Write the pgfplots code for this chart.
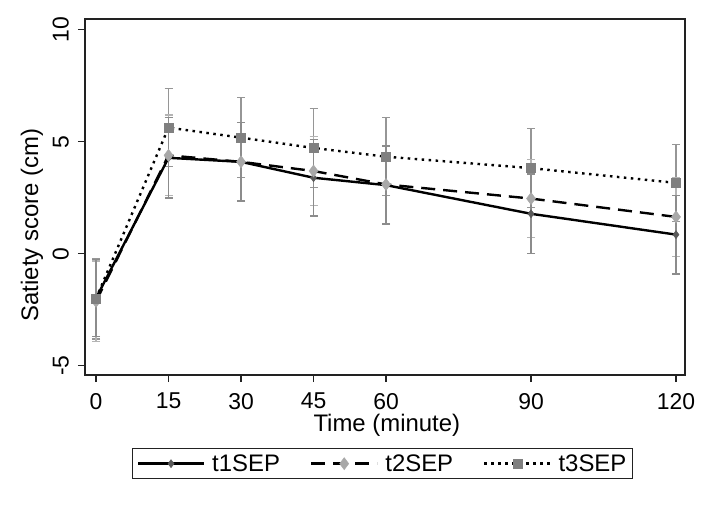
\documentclass[border=0pt]{standalone}
\usepackage{pgfplots}
\pgfplotsset{compat=1.18}
\usepackage{fontspec}
\setmainfont{Liberation Sans}
\definecolor{m1}{HTML}{5A5A5A}
\definecolor{m2}{HTML}{A8A8A8}
\definecolor{m3}{HTML}{808080}
\definecolor{b1}{HTML}{8C8C8C}
\definecolor{b2}{HTML}{B4B4B4}
\definecolor{b3}{HTML}{969696}
\definecolor{frame}{HTML}{222222}
\begin{document}
\begin{tikzpicture}
\path[use as bounding box] (0,0) rectangle (705bp,512bp);
\begin{axis}[
  at={(85bp,137bp)}, anchor=south west,
  scale only axis, width=600bp, height=356bp,
  xmin=-2.28, xmax=121.86, ymin=-5.42, ymax=10.48,
  xtick={0,15,30,45,60,90,120},
  ytick={-5,0,5,10},
  axis line style={frame, line width=1.3bp},
  tick style={frame, line width=1.2bp},
  tick align=outside, major tick length=7bp,
  xtick pos=bottom, ytick pos=left,
  /pgf/number format/assume math mode=true,
  ticklabel style={font=\fontsize{23}{26}\selectfont, inner sep=0pt},
  xticklabel style={anchor=north},
  xticklabel shift=11bp,
  yticklabel style={rotate=90, anchor=south},
  yticklabel shift=9bp,
  xlabel={Time (minute)},
  ylabel={Satiety score (cm)},
  label style={font=\fontsize{24}{27}\selectfont, inner sep=0pt},
  xlabel style={at={(axis description cs:0.503,-0.16)}, anchor=base},
  ylabel style={at={(axis description cs:-0.0783,0.421)}, anchor=base},
  legend columns=3,
  legend style={at={(axis description cs:0.496,-0.205)}, anchor=north,
    draw=frame, line width=1.2bp, font=\fontsize{24}{27}\selectfont,
    inner xsep=4bp, inner ysep=4bp,
    /tikz/every even column/.append style={column sep=28bp},
    /tikz/every odd column/.append style={column sep=5bp},
  },
  legend image code/.code={%
    \draw[mark repeat=2, mark phase=2, #1] plot coordinates {(0bp,0bp) (33bp,0bp) (66bp,0bp)};},
  legend cell align=left,
]
% error bars (drawn beneath the lines)
\addplot[draw=none, forget plot, error bars/.cd, y dir=both, y explicit,
  error bar style={b3, line width=1.5bp, solid},
  error mark options={rotate=90, mark size=4bp, b3, line width=1.5bp, solid}]
  table[x=x, y=y, y error=e] {
x y e
0 -2.01 1.80
15 5.63 1.74
30 5.18 1.79
45 4.72 1.76
60 4.33 1.74
90 3.82 1.76
120 3.16 1.72
};
\addplot[draw=none, forget plot, error bars/.cd, y dir=both, y explicit,
  error bar style={b2, line width=1.5bp, solid},
  error mark options={rotate=90, mark size=4bp, b2, line width=1.5bp, solid}]
  table[x=x, y=y, y error=e] {
x y e
0 -2.13 1.80
15 4.39 1.80
30 4.10 1.75
45 3.69 1.55
60 3.09 1.74
90 2.46 1.75
120 1.64 1.76
};
\addplot[draw=none, forget plot, error bars/.cd, y dir=both, y explicit,
  error bar style={b1, line width=1.5bp, solid},
  error mark options={rotate=90, mark size=4bp, b1, line width=1.5bp, solid}]
  table[x=x, y=y, y error=e] {
x y e
0 -1.99 1.72
15 4.28 1.80
30 4.10 1.75
45 3.39 1.70
60 3.06 1.74
90 1.78 1.78
120 0.85 1.75
};
% lines
\addplot[black, line width=2.4bp, mark=diamond*, mark size=4bp,
  mark options={solid, fill=m1, draw=m1, line width=0.5bp}]
  table {
0 -1.99
15 4.28
30 4.10
45 3.39
60 3.06
90 1.78
120 0.85
};
\addlegendentry{t1SEP}
\addplot[black, line width=2.4bp, dash pattern=on 14bp off 8bp, mark=diamond*, mark size=6bp,
  mark options={solid, fill=m2, draw=m2, line width=0.5bp}]
  table {
0 -2.13
15 4.39
30 4.10
45 3.69
60 3.09
90 2.46
120 1.64
};
\addlegendentry{t2SEP}
\addplot[black, line width=2.4bp, dash pattern=on 2.5bp off 4.5bp, mark=square*, mark size=4.5bp,
  mark options={solid, fill=m3, draw=m3, line width=0.5bp}]
  table {
0 -2.01
15 5.63
30 5.18
45 4.72
60 4.33
90 3.82
120 3.16
};
\addlegendentry{t3SEP}
\end{axis}
\end{tikzpicture}
\end{document}
